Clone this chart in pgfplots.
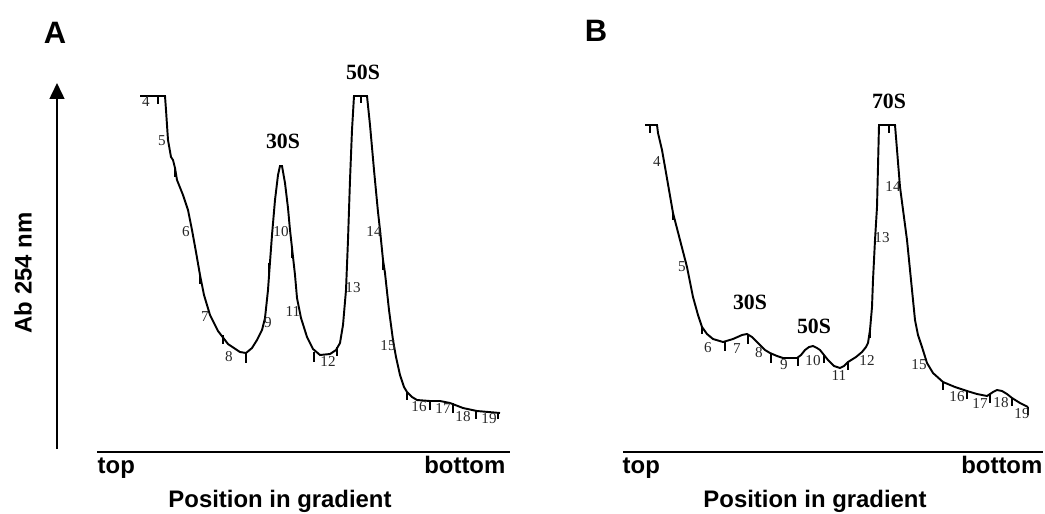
\documentclass[border=0pt]{standalone}
\usepackage{pgfplots}
\pgfplotsset{compat=1.18}
\usepackage{pgfplotstable}
\usepackage{fontspec}
\setmainfont{Liberation Sans}
\newfontfamily\tms{Liberation Serif}
\usetikzlibrary{arrows.meta}

% Panel A trace (x = position, y = distance from top of figure)
\pgfplotstableread{
x y
140 96
165 96
166 110
168 140
171 157
173 160
175 168
177 180
183 195
188 210
192 230
196 252
200 275
204 295
210 315
218 331
228 344
240 352
246 353
252 348
257 340
262 330
265 318
268 290
270 262
272 235
275 200
278 175
280 166
282 166
285 183
288 208
290 230
292 248
295 275
297 298
301 318
307 337
313 349
320 355
330 354
336 350
340 343
343 325
346 290
348 240
350 180
352 130
354 96
367 96
370 125
374 170
378 212
380 230
383 260
385 273
389 310
393 340
396 357
400 375
404 387
407 392
412 397
417 400
430 401
440 401
450 403
463 408
477 411
500 413
}\traceA

\pgfplotstableread{
x y e
158 96 8
175 168 9
200 275 9
223 335 9
246 353 10
269 263 10
292 248 10
314 352 10
337 347 9
361 96 7
383 260 10
407 392 8
430 401 9
453 403 10
476 411 8
498 413 6
}\ticksA

\pgfplotstableread{
x y l
146 102 4
162 141 5
186 232 6
205 317 7
229 357 8
268 323 9
281 232 10
293 312 11
328 361 12
353 288 13
374 232 14
388 346 15
419 407 16
443 408 17
463 417 18
489 419 19
}\labelsA

% Panel B trace
\pgfplotstableread{
x y
645 125
657 125
658 133
662 150
665 167
673 213
680 240
687 267
693 297
698 315
702 327
707 334
713 339
723 342
733 339
742 335
747 334
752 337
758 343
765 350
770 353
777 356
783 358
797 358
801 355
805 350
809 347
813 346
817 348
820 350
828 360
834 366
840 368
844 366
848 362
856 357
862 352
866 347
868 343
870 330
872 307
873 280
875 240
877 207
879 125
895 125
900 187
907 240
913 300
915 320
918 335
922 347
927 363
933 373
943 382
955 387
967 391
977 394
987 396
990 394
993 392
997 390
1002 391
1007 394
1012 398
1020 403
1028 407
}\traceB

\pgfplotstableread{
x y e
650 125 8
673 213 7
702 327 7
725 342 9
748 335 9
771 353 10
798 358 8
824 355 8
848 362 8
870 330 8
889 125 8
943 382 8
967 391 8
990 394 9
1012 398 8
1028 407 8
}\ticksB

\pgfplotstableread{
x y l
657 162 4
682 267 5
708 348 6
737 349 7
759 353 8
784 365 9
813 361 10
839 375 11
867 360 12
882 238 13
893 187 14
919 365 15
957 397 16
980 403 17
1001 403 18
1022 414 19
}\labelsB

\begin{document}
\begin{tikzpicture}
\begin{axis}[
  at={(0,0)}, anchor=south west,
  width=10.45cm, height=5.13cm, scale only axis,
  xmin=0, xmax=1045, ymin=0, ymax=513, y dir=reverse,
  hide axis, clip=false,
]
\path (axis cs:0,0) rectangle (axis cs:1045,513);
% traces
\addplot[black, line width=0.55pt, mark=none] table[x=x,y=y] {\traceA};
\addplot[black, line width=0.55pt, mark=none] table[x=x,y=y] {\traceB};
% fraction ticks
\addplot[draw=none, mark=none,
  error bars/.cd, y dir=plus, y explicit, error mark=none,
  error bar style={black, line width=0.55pt}]
  table[x=x,y=y,y error=e] {\ticksA};
\addplot[draw=none, mark=none,
  error bars/.cd, y dir=plus, y explicit, error mark=none,
  error bar style={black, line width=0.55pt}]
  table[x=x,y=y,y error=e] {\ticksB};
% fraction numbers
\addplot[draw=none, mark=none, nodes near coords, point meta=explicit symbolic,
  every node near coord/.append style={anchor=center, inner sep=0pt,
    font=\tms\fontsize{4.3}{4.5}\selectfont, text=black!85}]
  table[x=x,y=y,meta=l] {\labelsA};
\addplot[draw=none, mark=none, nodes near coords, point meta=explicit symbolic,
  every node near coord/.append style={anchor=center, inner sep=0pt,
    font=\tms\fontsize{4.3}{4.5}\selectfont, text=black!85}]
  table[x=x,y=y,meta=l] {\labelsB};

% peak names
\node[font=\tms\bfseries\fontsize{6.2}{6.2}\selectfont, inner sep=0pt] at (axis cs:283,141) {30S};
\node[font=\tms\bfseries\fontsize{6.2}{6.2}\selectfont, inner sep=0pt] at (axis cs:363,72) {50S};
\node[font=\tms\bfseries\fontsize{6.2}{6.2}\selectfont, inner sep=0pt] at (axis cs:750,302) {30S};
\node[font=\tms\bfseries\fontsize{6.2}{6.2}\selectfont, inner sep=0pt] at (axis cs:814,326) {50S};
\node[font=\tms\bfseries\fontsize{6.2}{6.2}\selectfont, inner sep=0pt] at (axis cs:889,101) {70S};

% panel letters
\node[font=\bfseries\fontsize{8.8}{9}\selectfont, inner sep=0pt] at (axis cs:55,33) {A};
\node[font=\bfseries\fontsize{8.8}{9}\selectfont, inner sep=0pt] at (axis cs:596,31) {B};

% y axis arrow and label (panel A)
\draw[black, line width=0.5pt, -{Triangle[length=4.5pt, width=4.2pt]}]
  (axis cs:57,449) -- (axis cs:57,83);
\node[font=\bfseries\fontsize{6.8}{7}\selectfont, rotate=90, inner sep=0pt] at (axis cs:23,273) {Ab 254 nm};

% x lines and labels
\draw[black, line width=0.6pt] (axis cs:97,452) -- (axis cs:510,452);
\draw[black, line width=0.6pt] (axis cs:623,452) -- (axis cs:1043,452);
\node[font=\bfseries\fontsize{6.8}{7}\selectfont, anchor=base west, inner sep=0pt] at (axis cs:97,473) {top};
\node[font=\bfseries\fontsize{6.8}{7}\selectfont, anchor=base east, inner sep=0pt] at (axis cs:506,473) {bottom};
\node[font=\bfseries\fontsize{6.8}{7}\selectfont, anchor=base, inner sep=0pt] at (axis cs:280,507) {Position in gradient};
\node[font=\bfseries\fontsize{6.8}{7}\selectfont, anchor=base west, inner sep=0pt] at (axis cs:622,473) {top};
\node[font=\bfseries\fontsize{6.8}{7}\selectfont, anchor=base east, inner sep=0pt] at (axis cs:1043,473) {bottom};
\node[font=\bfseries\fontsize{6.8}{7}\selectfont, anchor=base, inner sep=0pt] at (axis cs:815,507) {Position in gradient};
\end{axis}
\end{tikzpicture}
\end{document}
